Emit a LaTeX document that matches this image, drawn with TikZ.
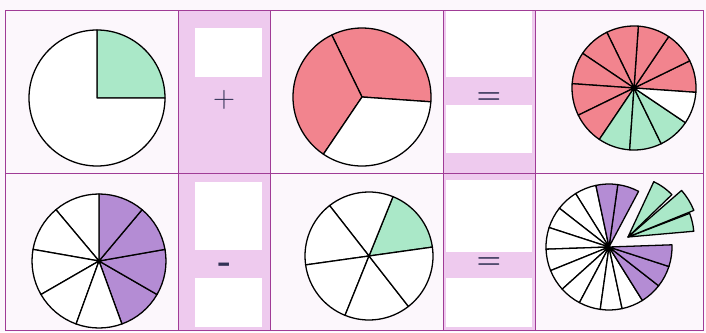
\documentclass[tikz,border=0pt]{standalone}
\usepackage{xcolor}
\usepackage{tikz}
\definecolor{framecol}{RGB}{160,60,150}
\definecolor{bandpink}{RGB}{238,202,238}
\definecolor{paper}{RGB}{252,247,252}
\definecolor{piered}{RGB}{242,132,142}
\definecolor{piegreen}{RGB}{170,232,200}
\definecolor{piepurple}{RGB}{180,140,212}
\definecolor{signcol}{RGB}{50,50,85}
\tikzstyle{frame} = [draw=framecol, line width=0.8pt]
\tikzstyle{band} = [fill=bandpink]
\tikzstyle{blank} = [fill=white]
\tikzstyle{rim} = [draw=black, line width=1.1pt, line join=round]
\tikzstyle{sign} = [text=signcol, inner sep=0pt]
% centre, from, to, radius, fill
\newcommand{\pieslice}[5]{\filldraw[rim, fill=#5] #1 -- ++(#2:#4) arc (#2:#3:#4) -- cycle;}

\begin{document}
\begin{tikzpicture}[x=0.3mm, y=0.3mm]
\useasboundingbox (0,0) rectangle (706,332);
\fill[paper] (0,0) rectangle (706,332);

% Pink columns
\fill[band] (178,2) rectangle (270,322);
\fill[band] (443,2) rectangle (535,322);

% White answer boxes
\fill[blank] (195,255) rectangle (262,304);
\fill[blank] (195,82) rectangle (262,150);
\fill[blank] (195,5) rectangle (262,54);
\fill[blank] (446,255) rectangle (532,321);
\fill[blank] (446,179) rectangle (532,227);
\fill[blank] (446,80) rectangle (532,152);
\fill[blank] (446,5) rectangle (532,54);

% Grid
\draw[frame] (5,2) rectangle (703,322);
\draw[frame] (5,159) -- (703,159);
\foreach \x in {178,270,443,535}
  \draw[frame] (\x,2) -- (\x,322);

% Top row
\pieslice{(97,234)}{0}{90}{68}{piegreen}
\pieslice{(97,234)}{90}{360}{68}{white}

\pieslice{(362,235)}{-4}{116}{69}{piered}
\pieslice{(362,235)}{116}{236}{69}{piered}
\pieslice{(362,235)}{236}{356}{69}{white}

\foreach \a in {-4,26,...,206}
  {\pieslice{(634,244)}{\a}{\a+30}{62}{piered}}
\foreach \a in {236,266,296}
  {\pieslice{(634,244)}{\a}{\a+30}{62}{piegreen}}
\pieslice{(634,244)}{326}{356}{62}{white}

% Bottom row
\foreach \a in {-70,-30,10,50}
  {\pieslice{(99,71)}{\a}{\a+40}{67}{piepurple}}
\foreach \a in {90,130,...,250}
  {\pieslice{(99,71)}{\a}{\a+40}{67}{white}}

\pieslice{(369,76)}{8}{68}{64}{piegreen}
\foreach \a in {68,128,...,308}
  {\pieslice{(369,76)}{\a}{\a+60}{64}{white}}

\foreach \a in {102,122,...,282}
  {\pieslice{(609,85)}{\a}{\a+20}{63}{white}}
\foreach \a in {62,82,-58,-38,-18}
  {\pieslice{(609,85)}{\a}{\a+20}{63}{piepurple}}
% pulled-out pieces
\pieslice{(628,95)}{5}{21}{66}{piegreen}
\pieslice{(628,95)}{22}{41}{71}{piegreen}
\pieslice{(628,95)}{44}{65}{61}{piegreen}

% Signs
\node (plus) [sign, font=\fontsize{26}{26}\selectfont] at (224,232) {+};
\node (minus) [sign, font=\fontsize{30}{30}\selectfont\bfseries] at (225,64) {-};
\node (eqtop) [sign, font=\fontsize{24}{24}\selectfont\bfseries] at (489,234) {=};
\node (eqbot) [sign, font=\fontsize{24}{24}\selectfont\bfseries] at (489,69) {=};

\end{tikzpicture}
\end{document}
